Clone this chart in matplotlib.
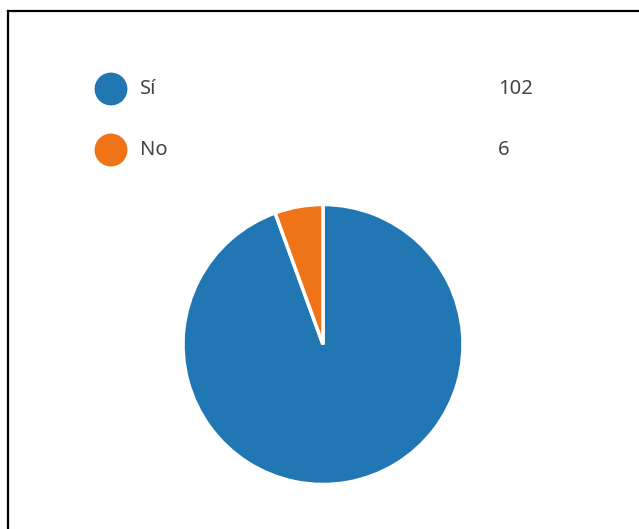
import matplotlib.pyplot as plt
from matplotlib.lines import Line2D

# Data
LABELS = ['Sí', 'No']
VALUES = [102, 6]
COLORS = ['#2077b4', '#ef7317']

W, H = 639, 529

fig = plt.figure(figsize=(W / 100, H / 100), dpi=100)
fig.patch.set_facecolor('white')

# Frame (top and left edges only, like a cropped screenshot)
fig.add_artist(Line2D([7.5 / W, 1], [1 - 10.5 / H, 1 - 10.5 / H], color='black', lw=1.6))
fig.add_artist(Line2D([7.5 / W, 7.5 / W], [0, 1 - 10.5 / H], color='black', lw=1.6))

# Pie
cx, cy, r = 323, 344.5, 140
ax = fig.add_axes([(cx - r) / W, (H - cy - r) / H, 2 * r / W, 2 * r / H])
ax.pie(VALUES, colors=COLORS, startangle=90, counterclock=False, radius=1,
       wedgeprops=dict(edgecolor='white', linewidth=2.5))
ax.set_xlim(-1, 1)
ax.set_ylim(-1, 1)
ax.set_aspect('equal')
ax.axis('off')

# Legend
leg = fig.add_axes([0, 0, 1, 1])
leg.set_xlim(0, W)
leg.set_ylim(H, 0)
leg.axis('off')
for i, (lab, val, col) in enumerate(zip(LABELS, VALUES, COLORS)):
    y = 89 + i * 61
    leg.scatter([111], [y], s=560, color=col, edgecolors='none')
    leg.text(140, y, lab, fontsize=14.5, color='#444444', va='center', ha='left',
             family='Noto Sans')
    leg.text(498, y, str(val), fontsize=14.5, color='#444444', va='center', ha='left',
             family='Noto Sans')

fig.savefig('out.png', dpi=100)
